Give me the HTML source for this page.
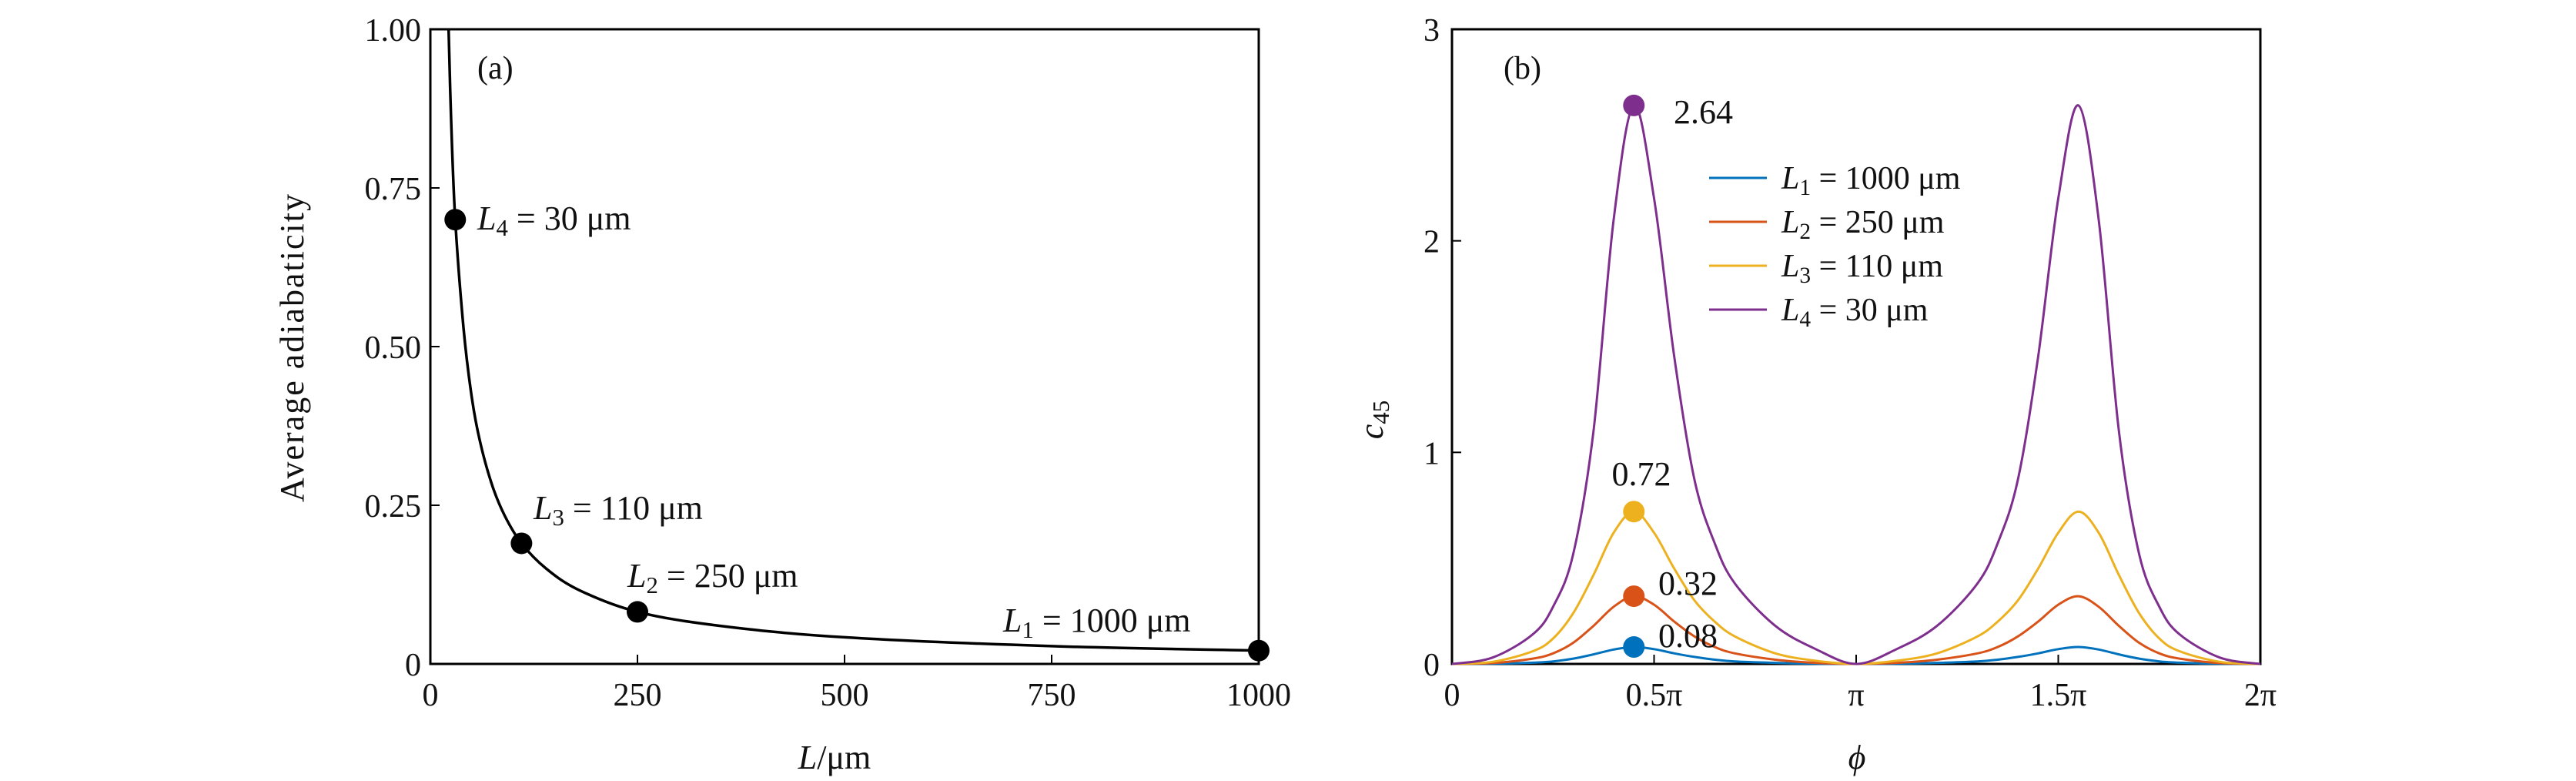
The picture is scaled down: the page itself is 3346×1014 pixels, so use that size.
<!DOCTYPE html>
<html><head><meta charset="utf-8"><style>
html,body{margin:0;padding:0;background:#fff}
svg{display:block}
text{font-family:"Liberation Serif","DejaVu Serif",serif;fill:#111}
</style></head><body>
<svg id="chart" width="3346" height="1014" viewBox="0 0 3346 1014" xmlns="http://www.w3.org/2000/svg">
<g id="pa"></g>
<g id="pb"></g>
</svg>
<script>
// Panel (a) data
const aL = [22,25,30,40,50,60,75,90,110,140,180,250,350,500,750,1000];
const aVal = [1.0,0.86,0.70,0.53,0.42,0.35,0.28,0.233,0.19,0.15,0.116,0.082,0.06,0.042,0.028,0.021];
const aMarkL = [30,110,250,1000];
const aMarkV = [0.70,0.19,0.082,0.021];
const aXTicks = [0,250,500,750,1000];
const aYTicks = [0,0.25,0.5,0.75,1.0];
const aYTickLabels = ["0","0.25","0.50","0.75","1.00"];
// Panel (b) data (phi in units of pi)
const bPhi = [0,0.1,0.2,0.25,0.3,0.35,0.4,0.45,0.5,0.55,0.6,0.65,0.7,0.8,0.9,1.0,1.1,1.2,1.3,1.35,1.4,1.45,1.5,1.55,1.6,1.65,1.7,1.75,1.8,1.9,2.0];
const bL4 = [0,0.03,0.14,0.27,0.52,1.1,2.1,2.64,2.2,1.45,0.87,0.57,0.38,0.18,0.07,0,0.07,0.18,0.38,0.57,0.87,1.45,2.2,2.64,2.1,1.1,0.52,0.27,0.14,0.03,0];
const bL3 = [0,0.01,0.06,0.12,0.24,0.42,0.62,0.72,0.62,0.45,0.3,0.2,0.13,0.05,0.015,0,0.015,0.05,0.13,0.2,0.3,0.45,0.62,0.72,0.62,0.42,0.24,0.12,0.06,0.01,0];
const bL2 = [0,0.004,0.025,0.05,0.1,0.18,0.27,0.32,0.28,0.2,0.13,0.08,0.05,0.02,0.005,0,0.005,0.02,0.05,0.08,0.13,0.2,0.28,0.32,0.27,0.18,0.1,0.05,0.025,0.004,0];
const bL1 = [0,0.001,0.006,0.012,0.025,0.045,0.068,0.08,0.07,0.05,0.033,0.02,0.012,0.005,0.001,0,0.001,0.005,0.012,0.02,0.033,0.05,0.07,0.08,0.068,0.045,0.025,0.012,0.006,0.001,0];
const bPeakPhi = [0.45,0.45,0.45,0.45];
const bPeakVal = [0.08,0.32,0.72,2.64];
const bXTicks = [0,0.5,1,1.5,2];
const bXTickLabels = ["0","0.5π","π","1.5π","2π"];
const bYTicks = [0,1,2,3];

const NS="http://www.w3.org/2000/svg";
function mk(parent,tag,attrs,txt){const e=document.createElementNS(NS,tag);for(const k in attrs)e.setAttribute(k,attrs[k]);if(txt!==undefined)e.textContent=txt;parent.appendChild(e);return e;}
function smooth(pts){let d="M"+pts[0][0].toFixed(1)+","+pts[0][1].toFixed(1);for(let i=0;i<pts.length-1;i++){const p0=pts[Math.max(i-1,0)],p1=pts[i],p2=pts[i+1],p3=pts[Math.min(i+2,pts.length-1)];const c1x=p1[0]+(p2[0]-p0[0])/6,c1y=p1[1]+(p2[1]-p0[1])/6,c2x=p2[0]-(p3[0]-p1[0])/6,c2y=p2[1]-(p3[1]-p1[1])/6;d+=" C"+c1x.toFixed(1)+","+c1y.toFixed(1)+" "+c2x.toFixed(1)+","+c2y.toFixed(1)+" "+p2[0].toFixed(1)+","+p2[1].toFixed(1);}return d;}

// Panel a
const A={l:559,r:1635,t:38,b:862};
const ax=v=>A.l+(v-0)/1000*(A.r-A.l);
const ay=v=>A.b-(v-0)/1*(A.b-A.t);
const pa=document.getElementById('pa');
let e;
e=mk(pa,'rect',{x:A.l,y:A.t,width:A.r-A.l,height:A.b-A.t,fill:'none',stroke:'#000','stroke-width':3});


aXTicks.forEach((v,i)=>{
 e=mk(pa,'line',{x1:ax(v),x2:ax(v),y1:A.b,y2:A.b-12,stroke:'#000','stroke-width':2});
 
 
 e=mk(pa,'text',{x:ax(v),y:A.b+54,'font-size':42,'text-anchor':'middle'},String(v));
 
 
});
aYTicks.forEach((v,i)=>{
 e=mk(pa,'line',{x1:A.l,x2:A.l+12,y1:ay(v),y2:ay(v),stroke:'#000','stroke-width':2});
 
 
 e=mk(pa,'text',{x:A.l-12,y:ay(v)+15,'font-size':42,'text-anchor':'end'},aYTickLabels[i]);
 
 
});
e=mk(pa,'path',{d:smooth(aL.map((v,i)=>[ax(v),ay(aVal[i])])),fill:'none',stroke:'#000','stroke-width':3.5});


aMarkL.forEach((v,i)=>{
 e=mk(pa,'circle',{cx:ax(v),cy:ay(aMarkV[i]),r:14,fill:'#000'});
 
 
});
function lab(parent,x,y,n,val,name,fs){const t=mk(parent,'text',{x:x,y:y,'font-size':fs||44});
 mk(t,'tspan',{'font-style':'italic'},'L');mk(t,'tspan',{dy:8,'font-size':(fs||44)*0.7},String(n));mk(t,'tspan',{dy:-8},' = '+val+' μm');return t;}
lab(pa,620,298,4,'30','label-L4');
lab(pa,693,674,3,'110','label-L3');
lab(pa,815,762,2,'250','label-L2');
lab(pa,1303,820,1,'1000','label-L1');
e=mk(pa,'text',{x:620,y:102,'font-size':42},'(a)');


e=mk(pa,'text',{x:0,y:0,'font-size':44,'text-anchor':'middle','letter-spacing':2,transform:'translate(394,451) rotate(-90)'},'Average adiabaticity');


e=mk(pa,'text',{x:1084,y:998,'font-size':44,'text-anchor':'middle'});


mk(e,'tspan',{'font-style':'italic'},'L');mk(e,'tspan',{},'/μm');

// Panel b
const B={l:1886,r:2936,t:38,b:862};
const bx=v=>B.l+v/2*(B.r-B.l);
const by=v=>B.b-v/3*(B.b-B.t);
const pb=document.getElementById('pb');
e=mk(pb,'rect',{x:B.l,y:B.t,width:B.r-B.l,height:B.b-B.t,fill:'none',stroke:'#000','stroke-width':3});


bXTicks.forEach((v,i)=>{
 e=mk(pb,'line',{x1:bx(v),x2:bx(v),y1:B.b,y2:B.b-12,stroke:'#000','stroke-width':2});
 
 
 e=mk(pb,'text',{x:bx(v),y:B.b+54,'font-size':42,'text-anchor':'middle'},bXTickLabels[i]);
 
 
});
bYTicks.forEach(v=>{
 e=mk(pb,'line',{x1:B.l,x2:B.l+12,y1:by(v),y2:by(v),stroke:'#000','stroke-width':2});
 
 
 e=mk(pb,'text',{x:B.l-16,y:by(v)+15,'font-size':42,'text-anchor':'end'},String(v));
 
 
});
const series=[[bL1,'#0072bd','L1'],[bL2,'#d95319','L2'],[bL3,'#edb120','L3'],[bL4,'#7e2f8e','L4']];
series.forEach(s=>{
 e=mk(pb,'path',{d:smooth(bPhi.map((p,i)=>[bx(p),by(s[0][i])])),fill:'none',stroke:s[1],'stroke-width':3});
 
 
});
series.forEach((s,i)=>{
 e=mk(pb,'circle',{cx:bx(bPeakPhi[i]),cy:by(bPeakVal[i]),r:14,fill:s[1]});
 
 
});
const peakLabelPos=[[2154,840,'start'],[2154,772,'start'],[2132,630,'middle'],[2174,160,'start']];
peakLabelPos.forEach((p,i)=>{
 e=mk(pb,'text',{x:p[0],y:p[1],'font-size':44,'text-anchor':p[2]},bPeakVal[i].toFixed(2));
 
 
});
const legVals=['1000','250','110','30'];
series.forEach((s,i)=>{
 const y=231+i*57;
 e=mk(pb,'line',{x1:2220,x2:2295,y1:y,y2:y,stroke:s[1],'stroke-width':3});
 
 
 lab(pb,2314,y+14,i+1,legVals[i],'legend-entry-'+s[2],42);
});
e=mk(pb,'text',{x:1953,y:102,'font-size':42},'(b)');


e=mk(pb,'text',{x:0,y:0,'font-size':44,'text-anchor':'middle',transform:'translate(1796,545) rotate(-90)'});


mk(e,'tspan',{'font-style':'italic'},'c');mk(e,'tspan',{dy:8,'font-size':31},'45');
e=mk(pb,'text',{x:2412,y:998,'font-size':44,'text-anchor':'middle','font-style':'italic'},'ϕ');


</script>
</body></html>
